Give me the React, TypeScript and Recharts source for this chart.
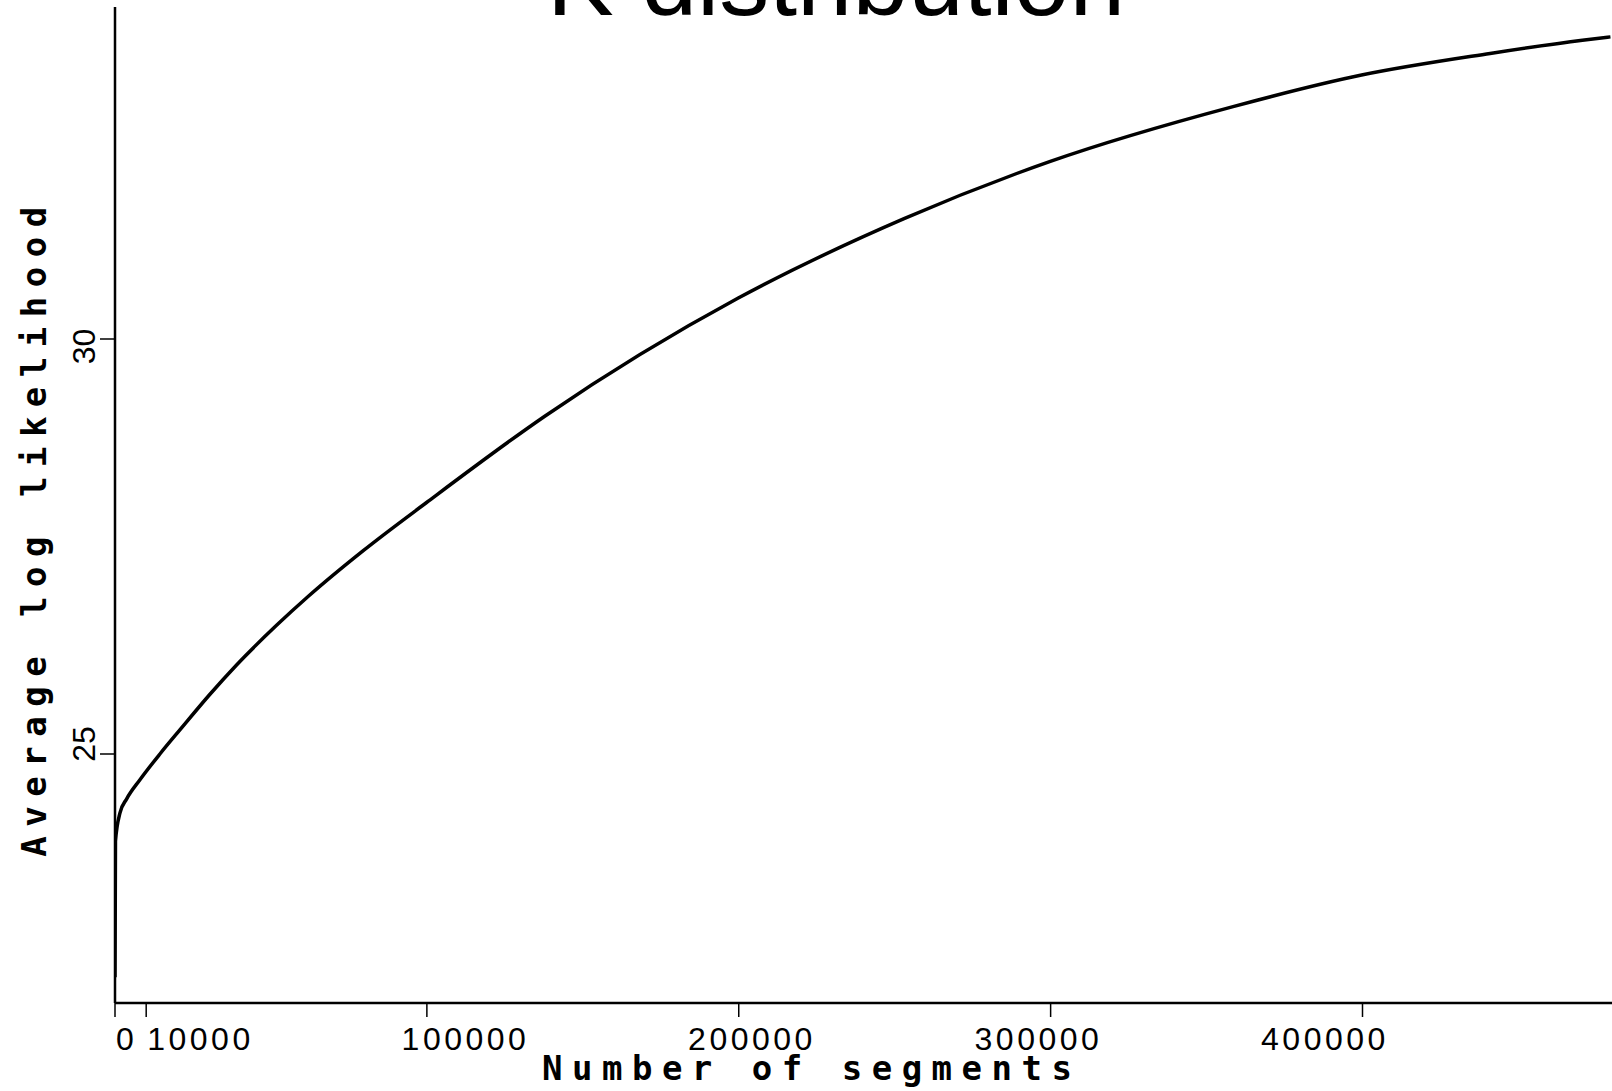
import { LineChart, Line, XAxis, YAxis } from "recharts"

// readings taken off the curve
const segments = [
  0, 150, 1600, 3750, 8000, 14400, 20800, 30450, 38900, 51800, 62000, 79600, 99900,
  137800, 199700, 253000, 299900, 358500, 399700, 440900, 470500, 479500,
]
const avgLogLik = [
  22.31, 23.95, 24.29, 24.46, 24.69, 25.0, 25.29, 25.72, 26.07, 26.55, 26.9, 27.45, 28.03,
  29.07, 30.49, 31.45, 32.14, 32.8, 33.18, 33.44, 33.6, 33.64,
]
const xTicks = [0, 10000, 100000, 200000, 300000, 400000]
const yTicks = [25, 30]

const data = segments.map((x, i) => ({ x, y: avgLogLik[i] }))

const W = 1612
const H = 1091
const tickFont = "'Liberation Sans', Arial, sans-serif"
const monoFont = "'DejaVu Sans Mono', monospace"

function XTick(props: any) {
  const { x, y, payload } = props
  const v = payload.value as number
  // small values sit just right of their tick, the rest are squeezed in a bit
  const small = v < 100000
  const tx = small ? x + 1 : 179 + 0.9186 * (x - 115)
  return (
    <text
      x={tx}
      y={y + 33}
      textAnchor={small ? "start" : "middle"}
      fontFamily={tickFont}
      fontSize={32}
      letterSpacing={3.5}
      fill="#000"
    >
      {v}
    </text>
  )
}

function YTick(props: any) {
  const { x, y, payload } = props
  const cy = 21.7 + 0.958 * y
  const bx = x - 5
  return (
    <text
      x={bx}
      y={cy}
      transform={`rotate(-90, ${bx}, ${cy})`}
      textAnchor="middle"
      fontFamily={tickFont}
      fontSize={32}
      fill="#000"
    >
      {payload.value}
    </text>
  )
}

export default function App() {
  return (
    <div style={{ position: "absolute", left: 0, top: 0, width: W, height: H, background: "#fff" }}>
      <LineChart width={W} height={H} data={data} margin={{ top: 7, right: 0, bottom: 58, left: 85 }}>
        <XAxis
          type="number"
          dataKey="x"
          domain={[0, 480000]}
          ticks={xTicks}
          allowDataOverflow
          height={30}
          tickSize={14}
          tickMargin={0}
          axisLine={{ stroke: "#000", strokeWidth: 2.5 }}
          tickLine={{ stroke: "#000", strokeWidth: 1.5 }}
          tick={<XTick />}
          interval={0}
        />
        <YAxis
          type="number"
          domain={[22, 34]}
          ticks={yTicks}
          allowDataOverflow
          width={30}
          tickSize={15}
          tickMargin={0}
          axisLine={{ stroke: "#000", strokeWidth: 2.5 }}
          tickLine={{ stroke: "#000", strokeWidth: 1.5 }}
          tick={<YTick />}
          interval={0}
        />
        <Line
          type="monotone"
          dataKey="y"
          stroke="#000"
          strokeWidth={3.5}
          dot={false}
          isAnimationActive={false}
        />
      </LineChart>
      <svg
        width={W}
        height={H}
        style={{ position: "absolute", left: 0, top: 0, pointerEvents: "none" }}
      >
        <text x={836} y={15} textAnchor="middle" fontFamily={tickFont} fontSize={100} fill="#000">
          K distribution
        </text>
        <text
          x={811.75}
          y={1080}
          textAnchor="middle"
          fontFamily={monoFont}
          fontWeight="bold"
          fontSize={34}
          letterSpacing={9.5}
          fill="#000"
        >
          Number of segments
        </text>
        <text
          x={46}
          y={527}
          transform="rotate(-90, 46, 527)"
          textAnchor="middle"
          fontFamily={monoFont}
          fontWeight="bold"
          fontSize={34}
          letterSpacing={9.5}
          fill="#000"
        >
          Average log likelihood
        </text>
      </svg>
    </div>
  )
}
